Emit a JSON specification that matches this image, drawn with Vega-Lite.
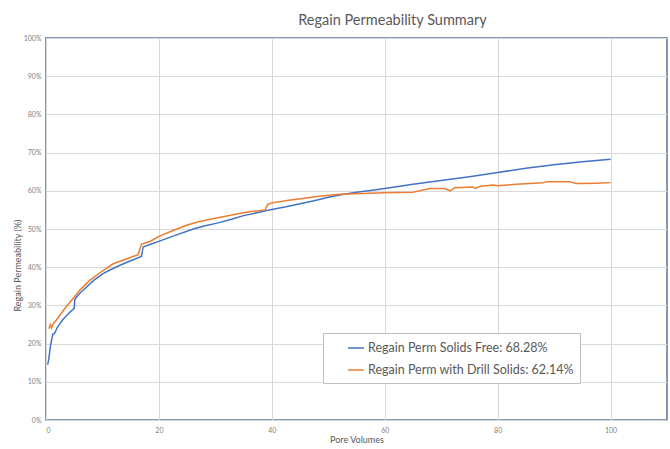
{
  "$schema": "https://vega.github.io/schema/vega-lite/v6.json",
  "width": 621,
  "height": 382,
  "autosize": {"type": "none"},
  "padding": {"left": 46, "top": 38, "right": 3, "bottom": 29},
  "background": "white",
  "title": {"text": "Regain Permeability Summary", "font": "Lato", "fontSize": 14.5, "fontWeight": "normal", "color": "#595959", "anchor": "middle", "dx": 36, "offset": 6},
  "config": {
    "view": {"stroke": "#8497b0", "strokeWidth": 2},
    "axis": {"gridColor": "#d9d9d9", "gridWidth": 1, "domain": false, "ticks": false, "labelFont": "Lato", "labelFontSize": 7, "labelColor": "#7f7f7f", "titleFont": "Lato", "titleFontSize": 9, "titleFontWeight": "normal", "titleColor": "#595959"}
  },
  "data": {"values": [
    {"pv": 0.3, "regain": 14.5, "series": "Regain Perm Solids Free: 68.28%"},
    {"pv": 0.5, "regain": 16, "series": "Regain Perm Solids Free: 68.28%"},
    {"pv": 0.8, "regain": 19.5, "series": "Regain Perm Solids Free: 68.28%"},
    {"pv": 1.2, "regain": 22.5, "series": "Regain Perm Solids Free: 68.28%"},
    {"pv": 1.5, "regain": 22.6, "series": "Regain Perm Solids Free: 68.28%"},
    {"pv": 2.0, "regain": 24.2, "series": "Regain Perm Solids Free: 68.28%"},
    {"pv": 2.5, "regain": 25.3, "series": "Regain Perm Solids Free: 68.28%"},
    {"pv": 3.0, "regain": 26.3, "series": "Regain Perm Solids Free: 68.28%"},
    {"pv": 3.7, "regain": 27.4, "series": "Regain Perm Solids Free: 68.28%"},
    {"pv": 4.3, "regain": 28.3, "series": "Regain Perm Solids Free: 68.28%"},
    {"pv": 5.0, "regain": 29.2, "series": "Regain Perm Solids Free: 68.28%"},
    {"pv": 5.1, "regain": 31.5, "series": "Regain Perm Solids Free: 68.28%"},
    {"pv": 5.3, "regain": 32.0, "series": "Regain Perm Solids Free: 68.28%"},
    {"pv": 6.0, "regain": 33.2, "series": "Regain Perm Solids Free: 68.28%"},
    {"pv": 7.2, "regain": 34.8, "series": "Regain Perm Solids Free: 68.28%"},
    {"pv": 8.5, "regain": 36.6, "series": "Regain Perm Solids Free: 68.28%"},
    {"pv": 10.1, "regain": 38.3, "series": "Regain Perm Solids Free: 68.28%"},
    {"pv": 11.5, "regain": 39.4, "series": "Regain Perm Solids Free: 68.28%"},
    {"pv": 13.1, "regain": 40.5, "series": "Regain Perm Solids Free: 68.28%"},
    {"pv": 15.0, "regain": 41.7, "series": "Regain Perm Solids Free: 68.28%"},
    {"pv": 16.9, "regain": 42.8, "series": "Regain Perm Solids Free: 68.28%"},
    {"pv": 17.2, "regain": 45.3, "series": "Regain Perm Solids Free: 68.28%"},
    {"pv": 18.5, "regain": 46.0, "series": "Regain Perm Solids Free: 68.28%"},
    {"pv": 20.2, "regain": 46.9, "series": "Regain Perm Solids Free: 68.28%"},
    {"pv": 23, "regain": 48.4, "series": "Regain Perm Solids Free: 68.28%"},
    {"pv": 26.1, "regain": 50.0, "series": "Regain Perm Solids Free: 68.28%"},
    {"pv": 28, "regain": 50.8, "series": "Regain Perm Solids Free: 68.28%"},
    {"pv": 30.5, "regain": 51.6, "series": "Regain Perm Solids Free: 68.28%"},
    {"pv": 33, "regain": 52.6, "series": "Regain Perm Solids Free: 68.28%"},
    {"pv": 35, "regain": 53.5, "series": "Regain Perm Solids Free: 68.28%"},
    {"pv": 37.5, "regain": 54.3, "series": "Regain Perm Solids Free: 68.28%"},
    {"pv": 40, "regain": 55.1, "series": "Regain Perm Solids Free: 68.28%"},
    {"pv": 42.5, "regain": 55.8, "series": "Regain Perm Solids Free: 68.28%"},
    {"pv": 45, "regain": 56.6, "series": "Regain Perm Solids Free: 68.28%"},
    {"pv": 47.5, "regain": 57.4, "series": "Regain Perm Solids Free: 68.28%"},
    {"pv": 50, "regain": 58.3, "series": "Regain Perm Solids Free: 68.28%"},
    {"pv": 52, "regain": 58.9, "series": "Regain Perm Solids Free: 68.28%"},
    {"pv": 55, "regain": 59.6, "series": "Regain Perm Solids Free: 68.28%"},
    {"pv": 57.5, "regain": 60.1, "series": "Regain Perm Solids Free: 68.28%"},
    {"pv": 60, "regain": 60.6, "series": "Regain Perm Solids Free: 68.28%"},
    {"pv": 65, "regain": 61.7, "series": "Regain Perm Solids Free: 68.28%"},
    {"pv": 70, "regain": 62.7, "series": "Regain Perm Solids Free: 68.28%"},
    {"pv": 75, "regain": 63.7, "series": "Regain Perm Solids Free: 68.28%"},
    {"pv": 80, "regain": 64.8, "series": "Regain Perm Solids Free: 68.28%"},
    {"pv": 85, "regain": 65.9, "series": "Regain Perm Solids Free: 68.28%"},
    {"pv": 90, "regain": 66.8, "series": "Regain Perm Solids Free: 68.28%"},
    {"pv": 95, "regain": 67.6, "series": "Regain Perm Solids Free: 68.28%"},
    {"pv": 100, "regain": 68.28, "series": "Regain Perm Solids Free: 68.28%"},
    {"pv": 0.5, "regain": 23.9, "series": "Regain Perm with Drill Solids: 62.14%"},
    {"pv": 0.8, "regain": 25.0, "series": "Regain Perm with Drill Solids: 62.14%"},
    {"pv": 1.0, "regain": 24.1, "series": "Regain Perm with Drill Solids: 62.14%"},
    {"pv": 1.3, "regain": 25.2, "series": "Regain Perm with Drill Solids: 62.14%"},
    {"pv": 1.8, "regain": 26.1, "series": "Regain Perm with Drill Solids: 62.14%"},
    {"pv": 2.5, "regain": 27.5, "series": "Regain Perm with Drill Solids: 62.14%"},
    {"pv": 3.5, "regain": 29.5, "series": "Regain Perm with Drill Solids: 62.14%"},
    {"pv": 4.8, "regain": 31.8, "series": "Regain Perm with Drill Solids: 62.14%"},
    {"pv": 6.0, "regain": 34.0, "series": "Regain Perm with Drill Solids: 62.14%"},
    {"pv": 7.8, "regain": 36.6, "series": "Regain Perm with Drill Solids: 62.14%"},
    {"pv": 10.0, "regain": 39.0, "series": "Regain Perm with Drill Solids: 62.14%"},
    {"pv": 11.9, "regain": 40.9, "series": "Regain Perm with Drill Solids: 62.14%"},
    {"pv": 14.0, "regain": 42.0, "series": "Regain Perm with Drill Solids: 62.14%"},
    {"pv": 16.3, "regain": 43.3, "series": "Regain Perm with Drill Solids: 62.14%"},
    {"pv": 16.9, "regain": 46.0, "series": "Regain Perm with Drill Solids: 62.14%"},
    {"pv": 18.5, "regain": 46.8, "series": "Regain Perm with Drill Solids: 62.14%"},
    {"pv": 20.2, "regain": 48.2, "series": "Regain Perm with Drill Solids: 62.14%"},
    {"pv": 22.5, "regain": 49.6, "series": "Regain Perm with Drill Solids: 62.14%"},
    {"pv": 24.9, "regain": 51.0, "series": "Regain Perm with Drill Solids: 62.14%"},
    {"pv": 27, "regain": 51.9, "series": "Regain Perm with Drill Solids: 62.14%"},
    {"pv": 30, "regain": 52.8, "series": "Regain Perm with Drill Solids: 62.14%"},
    {"pv": 33.8, "regain": 53.9, "series": "Regain Perm with Drill Solids: 62.14%"},
    {"pv": 36, "regain": 54.5, "series": "Regain Perm with Drill Solids: 62.14%"},
    {"pv": 38.8, "regain": 55.0, "series": "Regain Perm with Drill Solids: 62.14%"},
    {"pv": 39.3, "regain": 56.5, "series": "Regain Perm with Drill Solids: 62.14%"},
    {"pv": 40.2, "regain": 56.9, "series": "Regain Perm with Drill Solids: 62.14%"},
    {"pv": 43, "regain": 57.5, "series": "Regain Perm with Drill Solids: 62.14%"},
    {"pv": 45.5, "regain": 58.0, "series": "Regain Perm with Drill Solids: 62.14%"},
    {"pv": 48, "regain": 58.5, "series": "Regain Perm with Drill Solids: 62.14%"},
    {"pv": 52, "regain": 59.1, "series": "Regain Perm with Drill Solids: 62.14%"},
    {"pv": 56.2, "regain": 59.3, "series": "Regain Perm with Drill Solids: 62.14%"},
    {"pv": 60, "regain": 59.5, "series": "Regain Perm with Drill Solids: 62.14%"},
    {"pv": 65, "regain": 59.6, "series": "Regain Perm with Drill Solids: 62.14%"},
    {"pv": 68, "regain": 60.6, "series": "Regain Perm with Drill Solids: 62.14%"},
    {"pv": 70.6, "regain": 60.6, "series": "Regain Perm with Drill Solids: 62.14%"},
    {"pv": 71.6, "regain": 60.0, "series": "Regain Perm with Drill Solids: 62.14%"},
    {"pv": 72.4, "regain": 60.8, "series": "Regain Perm with Drill Solids: 62.14%"},
    {"pv": 75.6, "regain": 61.0, "series": "Regain Perm with Drill Solids: 62.14%"},
    {"pv": 76, "regain": 60.6, "series": "Regain Perm with Drill Solids: 62.14%"},
    {"pv": 77, "regain": 61.2, "series": "Regain Perm with Drill Solids: 62.14%"},
    {"pv": 79.2, "regain": 61.5, "series": "Regain Perm with Drill Solids: 62.14%"},
    {"pv": 80, "regain": 61.3, "series": "Regain Perm with Drill Solids: 62.14%"},
    {"pv": 83.3, "regain": 61.7, "series": "Regain Perm with Drill Solids: 62.14%"},
    {"pv": 88, "regain": 62.1, "series": "Regain Perm with Drill Solids: 62.14%"},
    {"pv": 88.9, "regain": 62.4, "series": "Regain Perm with Drill Solids: 62.14%"},
    {"pv": 92.7, "regain": 62.4, "series": "Regain Perm with Drill Solids: 62.14%"},
    {"pv": 93.9, "regain": 61.9, "series": "Regain Perm with Drill Solids: 62.14%"},
    {"pv": 97.5, "regain": 62.0, "series": "Regain Perm with Drill Solids: 62.14%"},
    {"pv": 100, "regain": 62.14, "series": "Regain Perm with Drill Solids: 62.14%"}
  ]},
  "mark": {"type": "line", "strokeWidth": 1.5, "interpolate": "linear"},
  "encoding": {
    "x": {"field": "pv", "type": "quantitative", "scale": {"domain": [0, 110], "nice": false},
      "axis": {"title": "Pore Volumes", "values": [0, 20, 40, 60, 80, 100], "labelPadding": 6, "titlePadding": 2}},
    "y": {"field": "regain", "type": "quantitative", "scale": {"domain": [0, 100], "nice": false},
      "axis": {"title": "Regain Permeability (%)", "values": [0, 10, 20, 30, 40, 50, 60, 70, 80, 90, 100], "labelExpr": "datum.value + '%'", "labelPadding": 5, "titleX": -24, "titleY": 227, "titleAnchor": "middle", "titleAlign": "center"}},
    "color": {"field": "series", "type": "nominal",
      "scale": {"domain": ["Regain Perm Solids Free: 68.28%", "Regain Perm with Drill Solids: 62.14%"], "range": ["#4472C4", "#ED7D31"]},
      "legend": {"title": null, "orient": "none", "legendX": 277, "legendY": 295, "direction": "vertical", "fillColor": "white", "strokeColor": "#bfbfbf", "padding": 6, "symbolType": "stroke", "symbolSize": 250, "symbolStrokeWidth": 1.5, "symbolOffset": 18, "labelLimit": 400, "labelFont": "Lato", "labelFontSize": 12.5, "labelColor": "#595959", "rowPadding": 6, "labelOffset": 3, "offset": 0}},
    "order": {"field": "pv", "type": "quantitative"}
  }
}
